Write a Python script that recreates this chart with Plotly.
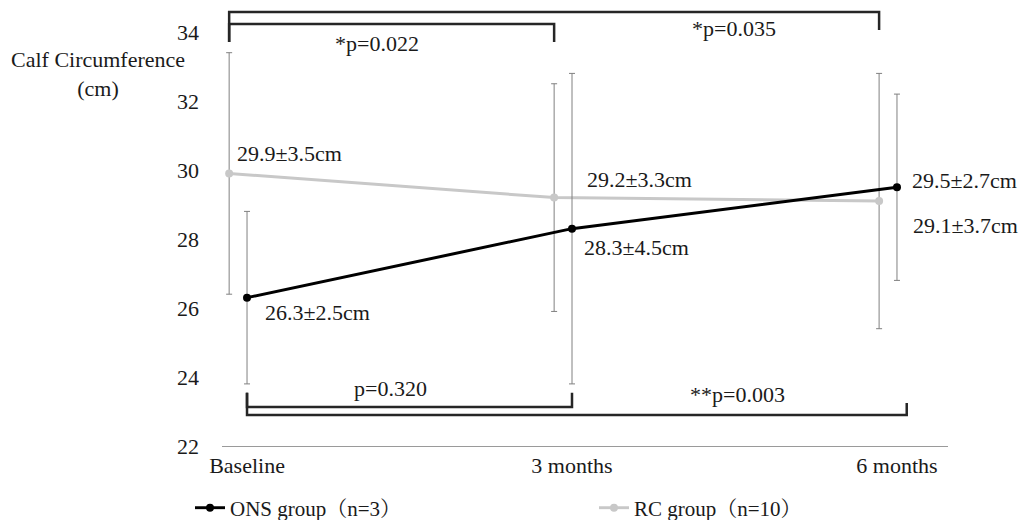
import plotly.graph_objects as go

# ---------------- data ----------------
categories = ["Baseline", "3 months", "6 months"]
ons_mean = [26.3, 28.3, 29.5]
ons_sd = [2.5, 4.5, 2.7]
rc_mean = [29.9, 29.2, 29.1]
rc_sd = [3.5, 3.3, 3.7]
ons_name = "ONS group（n=3）"
rc_name = "RC group（n=10）"
y_ticks = [22, 24, 26, 28, 30, 32, 34]
# comparisons: (group, from idx, to idx, label)
comparisons = [
    ("RC", 0, 1, "*p=0.022"),
    ("RC", 0, 2, "*p=0.035"),
    ("ONS", 0, 1, "p=0.320"),
    ("ONS", 0, 2, "**p=0.003"),
]

# ---------------- style ----------------
FONT = "Liberation Serif, Times New Roman, Noto Serif CJK SC, Noto Sans CJK SC, serif"
TXT = "#1a1a1a"
ONS_COLOR = "#000000"
RC_COLOR = "#c8c8c8"
ERR_COLOR = "#808080"
RC_OFF = -0.055
ONS_OFF = 0.0
L, R, T, B = 222, 81, 2, 74
PW, PH = 1029 - L - R, 520 - T - B
PX_PER_UNIT = 34.5

idx = list(range(len(categories)))
x_rc = [i + RC_OFF for i in idx]
x_ons = [i + ONS_OFF for i in idx]

fig = go.Figure()
fig.add_trace(go.Scatter(
    x=x_rc, y=rc_mean, name=rc_name, mode="lines+markers", legendrank=2,
    line=dict(color=RC_COLOR, width=3),
    marker=dict(color=RC_COLOR, size=8),
    error_y=dict(type="data", array=rc_sd, visible=True, color=ERR_COLOR,
                 thickness=1, width=3),
))
fig.add_trace(go.Scatter(
    x=x_ons, y=ons_mean, name=ons_name, mode="lines+markers", legendrank=1,
    line=dict(color=ONS_COLOR, width=3),
    marker=dict(color=ONS_COLOR, size=8),
    error_y=dict(type="data", array=ons_sd, visible=True, color=ERR_COLOR,
                 thickness=1, width=3),
))

# value labels (offsets in px)
rc_lab_off = [(6, 20), (31, 18), (32, -24)]
ons_lab_off = [(16, -15), (10, -19), (13, 7)]
for xs, ms, sds, offs in ((x_rc, rc_mean, rc_sd, rc_lab_off),
                           (x_ons, ons_mean, ons_sd, ons_lab_off)):
    for x, m, s, (dx, dy) in zip(xs, ms, sds, offs):
        fig.add_annotation(x=x, y=m, xref="x", yref="y",
                           text=f"{m:.1f}±{s:.1f}cm", showarrow=False,
                           xanchor="left", yanchor="middle",
                           xshift=dx, yshift=dy,
                           font=dict(family=FONT, size=22, color=TXT))

# brackets (y levels in data units) and p-value label positions
bracket_levels = {
    ("RC", 0, 1): dict(line=34.23, end=33.71, start=33.71, xpad=0.0),
    ("RC", 0, 2): dict(line=34.58, end=34.06, start=33.71, xpad=0.0),
    ("ONS", 0, 1): dict(line=23.13, end=23.54, start=23.54, xpad=0.0),
    ("ONS", 0, 2): dict(line=22.90, end=23.25, start=23.54, xpad=0.03),
}
label_pos = {
    ("RC", 0, 1): (0.40, 33.68),
    ("RC", 0, 2): (1.50, 34.09),
    ("ONS", 0, 1): (0.44, 23.68),
    ("ONS", 0, 2): (1.51, 23.48),
}
for grp, a, b, lab in comparisons:
    xs = x_rc if grp == "RC" else x_ons
    lv = bracket_levels[(grp, a, b)]
    x0, x1 = xs[a], xs[b] + lv["xpad"]
    path = (f"M {x0},{lv['start']} L {x0},{lv['line']} "
            f"L {x1},{lv['line']} L {x1},{lv['end']}")
    fig.add_shape(type="path", path=path, xref="x", yref="y",
                  line=dict(color="#262626", width=2.5))
    lx, ly = label_pos[(grp, a, b)]
    fig.add_annotation(x=lx, y=ly, xref="x", yref="y", text=lab,
                       showarrow=False, xanchor="center", yanchor="middle",
                       font=dict(family=FONT, size=22, color=TXT))

# y axis title
fig.add_annotation(x=(98 - L) / PW, y=(T + PH - 74) / PH, xref="paper",
                   yref="paper", text="Calf Circumference<br>(cm)",
                   showarrow=False, xanchor="center", yanchor="middle",
                   font=dict(family=FONT, size=22, color=TXT))

fig.update_layout(
    width=1029, height=520,
    margin=dict(l=L, r=R, t=T, b=B, autoexpand=False),
    paper_bgcolor="white", plot_bgcolor="white",
    font=dict(family=FONT, size=22, color=TXT),
    showlegend=True,
    legend=dict(orientation="h", x=(190 - L) / PW, y=(T + PH - 508) / PH,
                xanchor="left", yanchor="middle", entrywidth=359,
                entrywidthmode="pixels", itemwidth=30,
                bgcolor="rgba(0,0,0,0)",
                font=dict(family=FONT, size=21, color=TXT)),
    xaxis=dict(range=[-0.077, 2.157], tickmode="array", tickvals=idx,
               ticktext=categories, showgrid=False, zeroline=False,
               showline=True, linecolor="#9a9a9a", linewidth=1,
               ticks="", tickfont=dict(family=FONT, size=22, color=TXT)),
    yaxis=dict(range=[22, 22 + PH / PX_PER_UNIT], tickmode="array",
               tickvals=y_ticks, showgrid=False, zeroline=False,
               showline=False, ticks="", ticklabelstandoff=22,
               tickfont=dict(family=FONT, size=22, color=TXT)),
)

fig.write_html("out.html",
               config={"displayModeBar": False},
               post_script="document.body.style.margin='0';"
                           "document.body.style.overflow='hidden';")
